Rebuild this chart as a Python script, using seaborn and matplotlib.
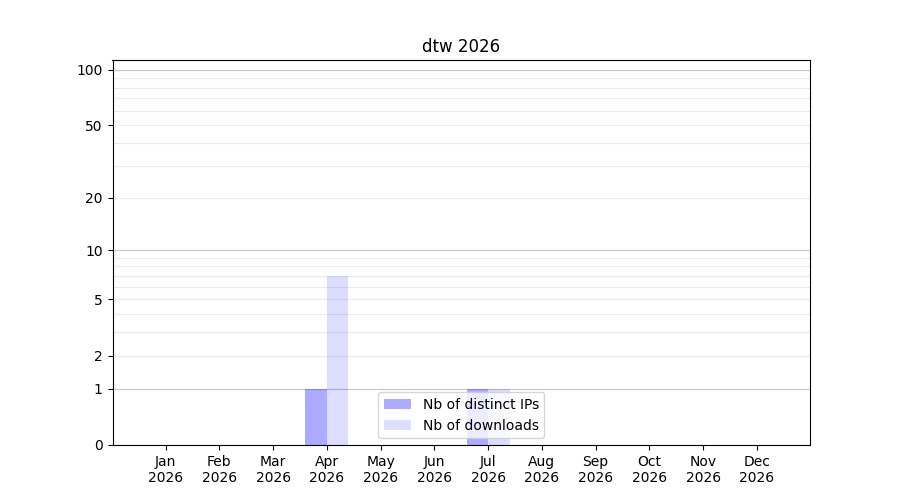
import numpy as np
import pandas as pd
import matplotlib
matplotlib.use("Agg")
import matplotlib.pyplot as plt
import matplotlib.ticker as mticker
import seaborn as sns

# monthly stats for 2026
months = ["Jan", "Feb", "Mar", "Apr", "May", "Jun",
          "Jul", "Aug", "Sep", "Oct", "Nov", "Dec"]
year = 2026
nb_ips = [0, 0, 0, 1, 0, 0, 1, 0, 0, 0, 0, 0]
nb_downloads = [0, 0, 0, 7, 0, 0, 1, 0, 0, 0, 0, 0]
series_names = ["Nb of distinct IPs", "Nb of downloads"]

idx = np.arange(len(months))
df = pd.DataFrame({
    "month": np.concatenate([idx, idx]),
    "count": nb_ips + nb_downloads,
    "metric": [series_names[0]] * 12 + [series_names[1]] * 12,
})

fig, ax = plt.subplots(figsize=(9, 5), dpi=100)

# y scale: log10(1 + n)
ax.set_yscale("function", functions=(lambda v: np.log10(1 + np.clip(v, 0, None)),
                                     lambda v: 10 ** v - 1))

sns.barplot(data=df, x="month", y="count", hue="metric", hue_order=series_names,
            native_scale=True, width=0.8, errorbar=None, saturation=1,
            palette={series_names[0]: "blue", series_names[1]: "blue"}, ax=ax)

for cont, a in zip(ax.containers, [0.33, 0.135]):
    for p in cont:
        p.set_alpha(a)
        p.set_linewidth(0)

# let matplotlib pick the x limits (5% margins)
ax.set_xlim(auto=True)
ax.relim()
ax.autoscale_view(scalex=True, scaley=False)

ax.set_ylim(0, 113)
ax.yaxis.set_major_locator(mticker.FixedLocator([0, 1, 2, 5, 10, 20, 50, 100]))
ax.yaxis.set_major_formatter(mticker.FormatStrFormatter("%d"))
ax.yaxis.set_minor_locator(mticker.FixedLocator(list(range(2, 10)) + list(range(20, 100, 10))))
ax.tick_params(axis="y", which="minor", length=0)
ax.grid(False)
ax.grid(True, axis="y", which="both", color="#ebebeb", linewidth=0.8)
ax.grid(False, axis="x", which="both")
ax.set_axisbelow(True)
# decades a bit darker
for v in [1, 10, 100]:
    ax.axhline(v, color="#c8c8c8", linewidth=0.8, zorder=0.8)

ax.set_xticks(idx)
ax.set_xticklabels([f"{m}\n{year}" for m in months])
ax.set_xlabel("")
ax.set_ylabel("")
ax.set_title(f"dtw {year}")

ax.legend(ax.containers, series_names, loc="lower center")

plt.savefig("out.png", dpi=100)
